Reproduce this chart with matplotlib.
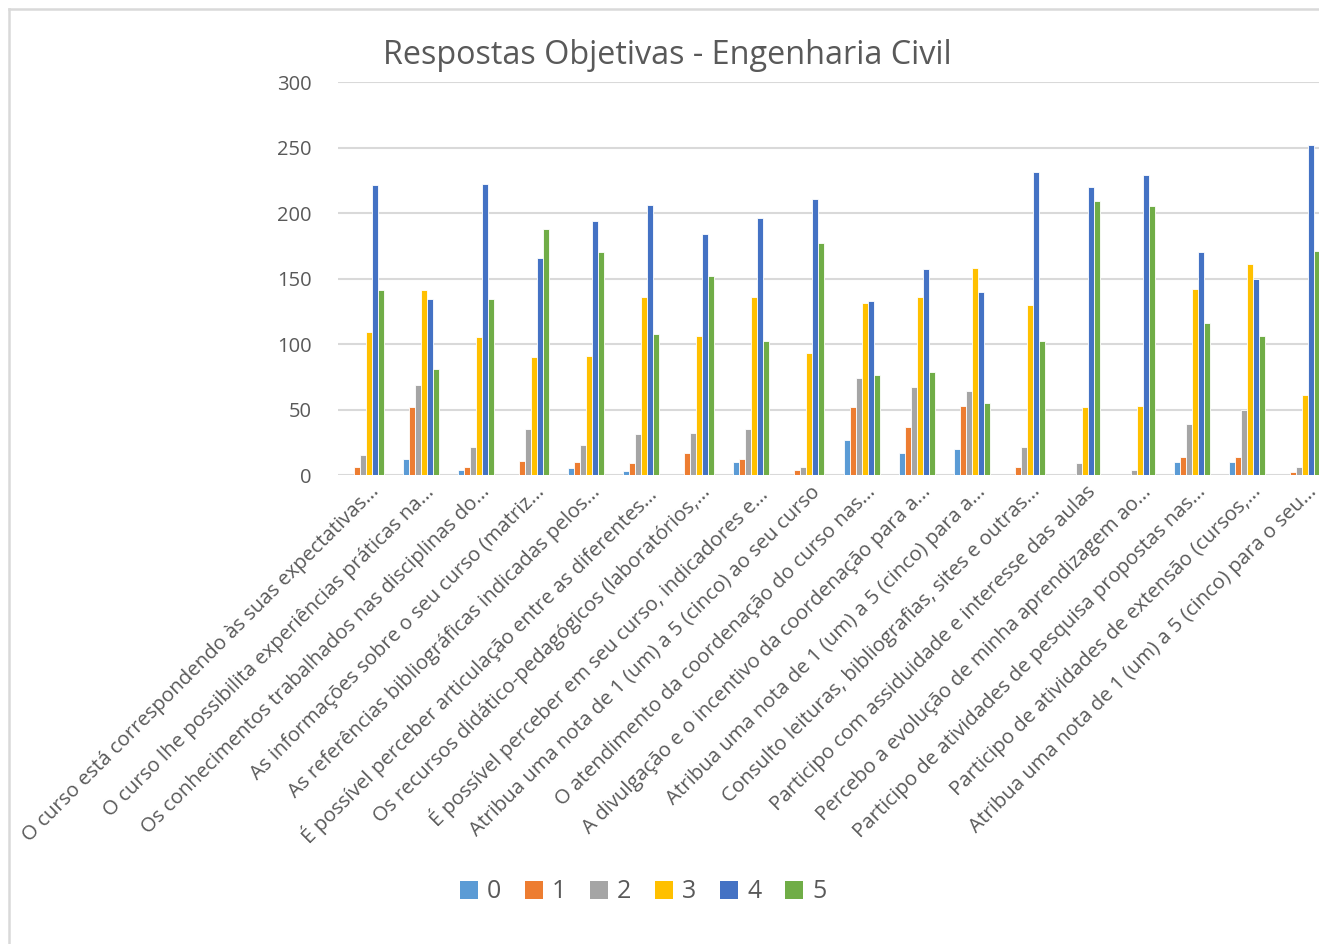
import matplotlib
matplotlib.use("Agg")
import matplotlib.pyplot as plt
import numpy as np
from matplotlib.lines import Line2D
from matplotlib.patches import Patch

plt.rcParams['font.family'] = ['Open Sans', 'DejaVu Sans']

categories = [
    "O curso está correspondendo às suas expectativas...",
    "O curso lhe possibilita experiências práticas na...",
    "Os conhecimentos trabalhados nas disciplinas do...",
    "As informações sobre o seu curso (matriz...",
    "As referências bibliográficas indicadas pelos...",
    "É possível perceber articulação entre as diferentes...",
    "Os recursos didático-pedagógicos (laboratórios,...",
    "É possível perceber em seu curso, indicadores e...",
    "Atribua uma nota de 1 (um) a 5 (cinco) ao seu curso",
    "O atendimento da coordenação do curso nas...",
    "A divulgação e o incentivo da coordenação para a...",
    "Atribua uma nota de 1 (um) a 5 (cinco) para a...",
    "Consulto leituras, bibliografias, sites e outras...",
    "Participo com assiduidade e interesse das aulas",
    "Percebo a evolução de minha aprendizagem ao...",
    "Participo de atividades de pesquisa propostas nas...",
    "Participo de atividades de extensão (cursos,...",
    "Atribua uma nota de 1 (um) a 5 (cinco) para o seu...",
]

series_names = ["0", "1", "2", "3", "4", "5"]
s0 = [0, 12, 4, 0, 5, 3, 0, 10, 0, 27, 17, 20, 0, 0, 0, 10, 10, 0]
s1 = [6, 52, 6, 11, 10, 9, 17, 12, 4, 52, 37, 53, 6, 0, 0, 14, 14, 2]
s2 = [15, 69, 21, 35, 23, 31, 32, 35, 6, 74, 67, 64, 21, 9, 4, 39, 50, 6]
s3 = [109, 141, 105, 90, 91, 136, 106, 136, 93, 131, 136, 158, 130, 52, 53, 142, 161, 61]
s4 = [221, 134, 222, 166, 194, 206, 184, 196, 211, 133, 157, 140, 231, 220, 229, 170, 150, 252]
s5 = [141, 81, 134, 188, 170, 108, 152, 102, 177, 76, 79, 55, 102, 209, 205, 116, 106, 171]
series = [s0, s1, s2, s3, s4, s5]
colors = ["#5B9BD5", "#ED7D31", "#A5A5A5", "#FFC000", "#4472C4", "#70AD47"]
yticks = [0, 50, 100, 150, 200, 250, 300]

W, H = 1319, 944
fig = plt.figure(figsize=(W / 100, H / 100), dpi=100)

# axes: plot area extends slightly past the right edge (cropped chart)
left_px, right_px, top_px, bot_px = 338, 1330, 82, 475
ax = fig.add_axes([left_px / W, 1 - bot_px / H, (right_px - left_px) / W, (bot_px - top_px) / H])

n = len(categories)
x = np.arange(n)
bw = 0.109
for i, (vals, c) in enumerate(zip(series, colors)):
    ax.bar(x + (i - 2.5) * bw, vals, width=bw, color=c, edgecolor="white",
           linewidth=0.6, zorder=3, label=series_names[i])

ax.set_xlim(-0.5, n - 0.5)
ax.set_ylim(0, 300)
ax.set_yticks(yticks)
ax.set_yticklabels([str(t) for t in yticks])
ax.yaxis.grid(True, color="#D9D9D9", linewidth=1.5, zorder=0)
ax.set_axisbelow(True)
for sp in ax.spines.values():
    sp.set_visible(False)
ax.tick_params(axis="y", length=0, pad=19, labelsize=14.5, labelcolor="#595959")
ax.tick_params(axis="x", length=0, pad=5, labelsize=14.7, labelcolor="#595959")
ax.set_xticks(x + 0.07)
ax.set_xticklabels(categories, rotation=45, ha="right", va="top", rotation_mode="anchor")

fig.text(667 / W, 1 - 55 / H, "Respostas Objetivas - Engenharia Civil", ha="center", va="center",
         fontsize=23.3, color="#595959")

handles = [Patch(facecolor=c, edgecolor="none") for c in colors]
leg = fig.legend(handles, series_names, loc="center", bbox_to_anchor=(643 / W, 1 - 892 / H),
                 ncol=6, frameon=False, fontsize=18, handlelength=0.72, handleheight=0.72,
                 handletextpad=0.36, columnspacing=0.95, labelcolor="#595959")

# chart border (top and left visible, rest cropped)
fig.add_artist(Line2D([9 / W, 9 / W], [0, 1 - 9 / H], transform=fig.transFigure, color="#D9D9D9", linewidth=1.8))
fig.add_artist(Line2D([9 / W, 1], [1 - 9 / H, 1 - 9 / H], transform=fig.transFigure, color="#D9D9D9", linewidth=1.8))

fig.savefig("out.png", dpi=100, facecolor="white")
